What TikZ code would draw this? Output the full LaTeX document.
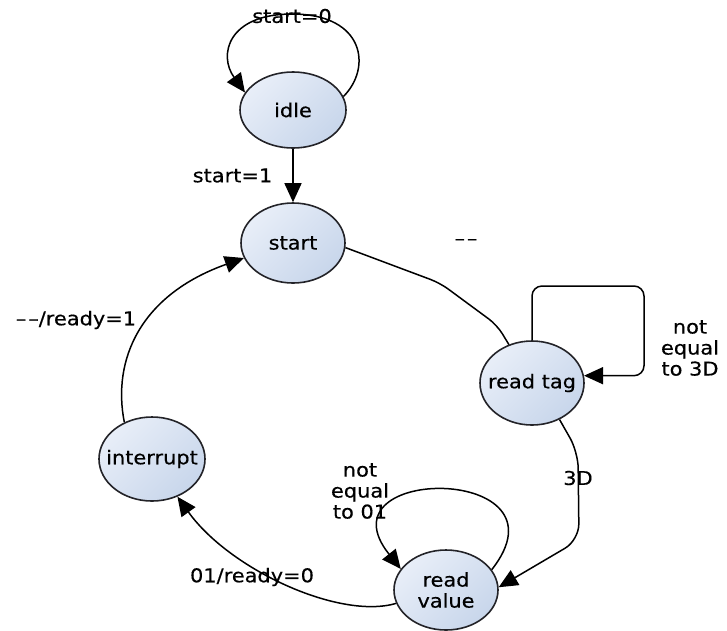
\documentclass[tikz,border=0pt]{standalone}
\usepackage{fontspec}
\newfontfamily\lblfont{DejaVu Sans}[FakeStretch=1.1,FakeBold=0.4]
\usetikzlibrary{shapes.geometric,arrows.meta}
\definecolor{sLight}{RGB}{232,238,248}
\definecolor{sDark}{RGB}{200,214,235}
\definecolor{sLine}{RGB}{35,35,40}
\begin{document}
\begin{tikzpicture}[x=1pt,y=-1pt,
  state/.style={ellipse, draw=sLine, line width=1.6pt, top color=sLight, bottom color=sDark, shading angle=45, inner sep=0pt},
  lbl/.style={font=\lblfont\fontsize{19}{21}\selectfont, text=black, inner sep=1pt, align=center},
  edge/.style={line width=1.5pt, draw=black, -{Triangle[length=19pt,width=17pt]}},
  plain/.style={line width=1.5pt, draw=black}]
\useasboundingbox (0,0) rectangle (727,630);

\node[state, minimum width=106pt, minimum height=76pt, label={[lbl]center:idle}] (idle) at (293,110) {};
\node[state, minimum width=104pt, minimum height=80pt, label={[lbl]center:start}] (start) at (293,243) {};
\node[state, minimum width=104pt, minimum height=84pt, label={[lbl]center:read tag}] (readtag) at (532,383) {};
\node[state, minimum width=106pt, minimum height=84pt, label={[lbl]center:interrupt}] (interrupt) at (152,459) {};
\node[state, minimum width=104pt, minimum height=80pt, label={[lbl]center:read\\value}] (readvalue) at (446,590) {};

% idle self loop
\coordinate (looptop) at (292,14);
\draw[edge] (idle.15) .. controls (372,68) and (365,14) .. (looptop)
  .. controls (228,14) and (218,55) .. (idle.160);
\node[lbl] (lstart0) at (292,16) {start=0};
% idle -> start
\draw[edge] (idle.south) -- (start.north)
  node[lbl, midway, left=19pt] (lstart1) {start=1};
% start -> read tag
\draw[plain, rounded corners=10pt] (start.-5) -- (440,283) -- (497,325) -- (readtag.121);
\node[lbl] (ldash) at (466,242) {\textendash\hspace{2pt}\textendash};
% read tag self loop
\draw[edge, rounded corners=10pt] (readtag.north) |- (644,286) |- (readtag.8);
\node[lbl] (lne3d) at (690,348) {not\\equal\\to 3D};
% read tag -> read value
\draw[edge, rounded corners=16pt] (readtag.-53) -- (578,452) -- (579,540) -- (readvalue.3);
\node[lbl] (l3d) at (578,478) {3D};
% read value self loop
\draw[edge] (readvalue.24) .. controls (575,464) and (317,464) .. (readvalue.155);
\node[lbl] (lne01) at (360,491) {not\\equal\\to 01};
% read value -> interrupt
\draw[edge] (readvalue.195) .. controls (340,620) and (230,570) .. (interrupt.-56);
\node[lbl] (l01) at (252,577) {01/ready=0};
% interrupt -> start
\draw[edge] (interrupt.127) .. controls (112,360) and (140,295) .. (start.197);
\node[lbl] (lready1) at (76,320) {\textendash\hspace{2pt}\textendash/ready=1};
\end{tikzpicture}
\end{document}
